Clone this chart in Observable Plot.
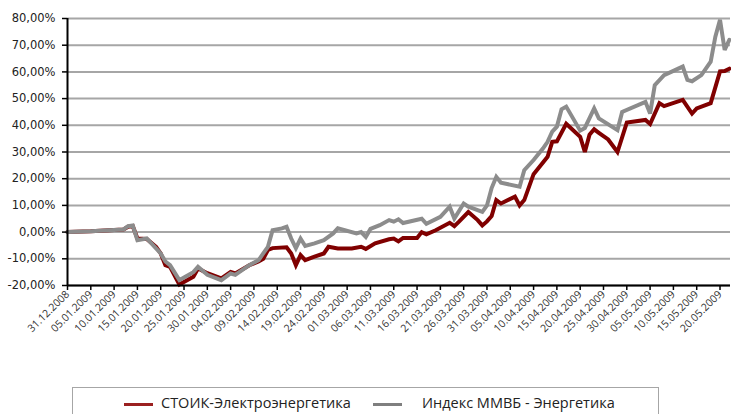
<!DOCTYPE html>
<html>
<head>
<meta charset="utf-8">
<script src="https://cdn.jsdelivr.net/npm/d3@7"></script>
<script src="https://cdn.jsdelivr.net/npm/@observablehq/plot@0.6"></script>
<style>
  body { margin: 0; background: #fff; }
  #wrap { position: relative; width: 731px; height: 414px; overflow: hidden; }
  #legend { position: absolute; left: 72px; top: 387px; width: 587px; height: 40px;
    border: 1.5px solid #a6a6a6; box-sizing: border-box; font-family: "Open Sans", sans-serif; font-size: 14.5px; color: #222; }
  .sw { position: absolute; top: 15px; width: 29px; height: 3px; }
  .lt { position: absolute; top: 5px; white-space: nowrap; }
</style>
</head>
<body>
<div id="wrap">
  <div id="chart"></div>
  <div id="legend"></div>
</div>
<script>
// Series 1: СТОИК-Электроэнергетика
const stoikDates = ["2008-12-31","2009-01-05","2009-01-10","2009-01-12","2009-01-13","2009-01-14","2009-01-15","2009-01-17","2009-01-19","2009-01-20","2009-01-21","2009-01-22","2009-01-24","2009-01-27","2009-01-28","2009-01-30","2009-02-02","2009-02-04","2009-02-05","2009-02-08","2009-02-10","2009-02-11","2009-02-12","2009-02-13","2009-02-16","2009-02-17","2009-02-18","2009-02-19","2009-02-20","2009-02-22","2009-02-24","2009-02-25","2009-02-27","2009-03-02","2009-03-04","2009-03-05","2009-03-07","2009-03-10","2009-03-11","2009-03-12","2009-03-13","2009-03-16","2009-03-17","2009-03-18","2009-03-20","2009-03-23","2009-03-24","2009-03-25","2009-03-27","2009-03-29","2009-03-30","2009-03-31","2009-04-01","2009-04-02","2009-04-03","2009-04-06","2009-04-07","2009-04-08","2009-04-10","2009-04-13","2009-04-14","2009-04-15","2009-04-17","2009-04-20","2009-04-21","2009-04-22","2009-04-23","2009-04-24","2009-04-26","2009-04-28","2009-04-30","2009-05-04","2009-05-05","2009-05-07","2009-05-08","2009-05-12","2009-05-14","2009-05-15","2009-05-18","2009-05-20","2009-05-21","2009-05-22"];
const stoikValues = [0,0.3,0.8,1.0,2.0,2.3,-2.4,-2.6,-5.5,-8,-12.4,-13,-19.6,-16.7,-13.6,-15.4,-17.3,-14.9,-15.5,-12.4,-11,-10,-6.7,-6,-5.7,-8,-12.4,-8.6,-10.5,-9.2,-8,-5.5,-6.1,-6.1,-5.5,-6.3,-4.2,-2.7,-2.4,-3.5,-2.2,-2.2,0,-0.8,0.7,3.5,2.2,3.9,7.5,4.5,2.5,4,6,12,10.7,13.3,10,12,21.7,28.2,33.8,34,40.6,35.7,30,36.5,38.5,37.2,34.7,30,41,42,40.5,48.3,47.2,49.5,44.4,46.3,48.3,60.2,60.3,61.2];

// Series 2: Индекс ММВБ - Энергетика
const mmvbDates = ["2008-12-31","2009-01-05","2009-01-10","2009-01-12","2009-01-13","2009-01-14","2009-01-15","2009-01-17","2009-01-20","2009-01-21","2009-01-22","2009-01-24","2009-01-25","2009-01-27","2009-01-28","2009-01-30","2009-02-02","2009-02-04","2009-02-05","2009-02-08","2009-02-10","2009-02-11","2009-02-12","2009-02-13","2009-02-15","2009-02-16","2009-02-17","2009-02-18","2009-02-19","2009-02-20","2009-02-22","2009-02-24","2009-02-26","2009-02-27","2009-03-03","2009-03-04","2009-03-05","2009-03-06","2009-03-08","2009-03-10","2009-03-11","2009-03-12","2009-03-13","2009-03-17","2009-03-18","2009-03-21","2009-03-23","2009-03-24","2009-03-26","2009-03-27","2009-03-30","2009-03-31","2009-04-01","2009-04-02","2009-04-03","2009-04-07","2009-04-08","2009-04-10","2009-04-12","2009-04-13","2009-04-14","2009-04-15","2009-04-16","2009-04-17","2009-04-20","2009-04-21","2009-04-23","2009-04-24","2009-04-28","2009-04-29","2009-05-04","2009-05-05","2009-05-06","2009-05-08","2009-05-12","2009-05-13","2009-05-14","2009-05-16","2009-05-18","2009-05-19","2009-05-20","2009-05-21","2009-05-22"];
const mmvbValues = [0,0.3,0.8,1,2.2,2.5,-3,-2.4,-8,-11,-12.4,-18,-17,-15,-13,-16,-18,-15.5,-16,-12.4,-10.5,-8,-5.5,0.7,1.4,2,-2.4,-6,-2.4,-5.2,-4.2,-3,-0.5,1.4,-0.5,0,-1.8,1.2,2.6,4.5,3.9,4.8,3.4,5,3.1,5.7,9.5,5.1,10.7,9.5,7.6,10,16.5,20.7,18.5,17,23.2,27,31.3,33.8,37.6,39.5,46,47,38,39,46.3,42.6,38.2,45,48.8,44.4,55,58.8,62,57,56.5,58.8,63.8,73.2,79.5,68.2,72];

// Axis ticks
const yTicks = [-20,-10,0,10,20,30,40,50,60,70,80];
const xTickLabels = ["31.12.2008","05.01.2009","10.01.2009","15.01.2009","20.01.2009","25.01.2009","30.01.2009","04.02.2009","09.02.2009","14.02.2009","19.02.2009","24.02.2009","01.03.2009","06.03.2009","11.03.2009","16.03.2009","21.03.2009","26.03.2009","31.03.2009","05.04.2009","10.04.2009","15.04.2009","20.04.2009","25.04.2009","30.04.2009","05.05.2009","10.05.2009","15.05.2009","20.05.2009"];

const seriesNames = ["СТОИК-Электроэнергетика", "Индекс ММВБ - Энергетика"];
const seriesColors = ["#800000", "#8c8c8c"];

const parseTick = s => { const [d, m, y] = s.split("."); return new Date(Date.UTC(+y, +m - 1, +d)); };
const xTicks = xTickLabels.map(parseTick);
const fmtX = d3.utcFormat("%d.%m.%Y");
const fmtY = v => v.toFixed(2).replace(".", ",") + "%";

const stoik = stoikDates.map((d, i) => ({date: new Date(d + "T00:00Z"), value: stoikValues[i]}));
const mmvb = mmvbDates.map((d, i) => ({date: new Date(d + "T00:00Z"), value: mmvbValues[i]}));

const x0 = new Date("2008-12-31T00:00Z");
const x1 = new Date("2009-05-22T06:00Z");

const chart = Plot.plot({
  width: 731,
  height: 382,
  marginLeft: 67,
  marginRight: 1,
  marginTop: 18,
  marginBottom: 97,
  style: {fontFamily: "DejaVu Sans, sans-serif", background: "#fff", overflow: "visible"},
  x: {type: "utc", domain: [x0, x1]},
  y: {domain: [-20, 80]},
  marks: [
    Plot.gridY(yTicks, {stroke: "#a6a6a6", strokeWidth: 2, strokeOpacity: 1}),
    Plot.line(stoik, {x: "date", y: "value", stroke: seriesColors[0], strokeWidth: 4, strokeLinejoin: "miter", strokeMiterlimit: 3}),
    Plot.line(mmvb, {x: "date", y: "value", stroke: seriesColors[1], strokeWidth: 4, strokeLinejoin: "miter", strokeMiterlimit: 3}),
    Plot.ruleY([-20], {stroke: "#000", strokeWidth: 2}),
    Plot.ruleX([x0], {stroke: "#000", strokeWidth: 2}),
    Plot.axisY(yTicks, {tickFormat: fmtY, tickSize: 5, tickPadding: 7, fontSize: 11.5, fill: "#222", stroke: "#000", strokeWidth: 1.5, label: null}),
    Plot.axisX(xTicks, {tickFormat: fmtX, tickSize: 5, tickPadding: 2, tickRotate: -45, fontSize: 10.5, fontFamily: "Open Sans, sans-serif", fill: "#333", stroke: "#000", strokeWidth: 1.5, label: null})
  ]
});
document.getElementById("chart").appendChild(chart);

const legend = document.getElementById("legend");
const swX = [51, 300];
const txX = [88, 349];
seriesNames.forEach((name, i) => {
  const sw = document.createElement("div");
  sw.className = "sw";
  sw.style.left = swX[i] + "px";
  sw.style.background = i === 0 ? "#9b2020" : "#7f7f7f";
  legend.appendChild(sw);
  const t = document.createElement("div");
  t.className = "lt";
  t.style.left = txX[i] + "px";
  t.textContent = name;
  legend.appendChild(t);
});
</script>
</body>
</html>
